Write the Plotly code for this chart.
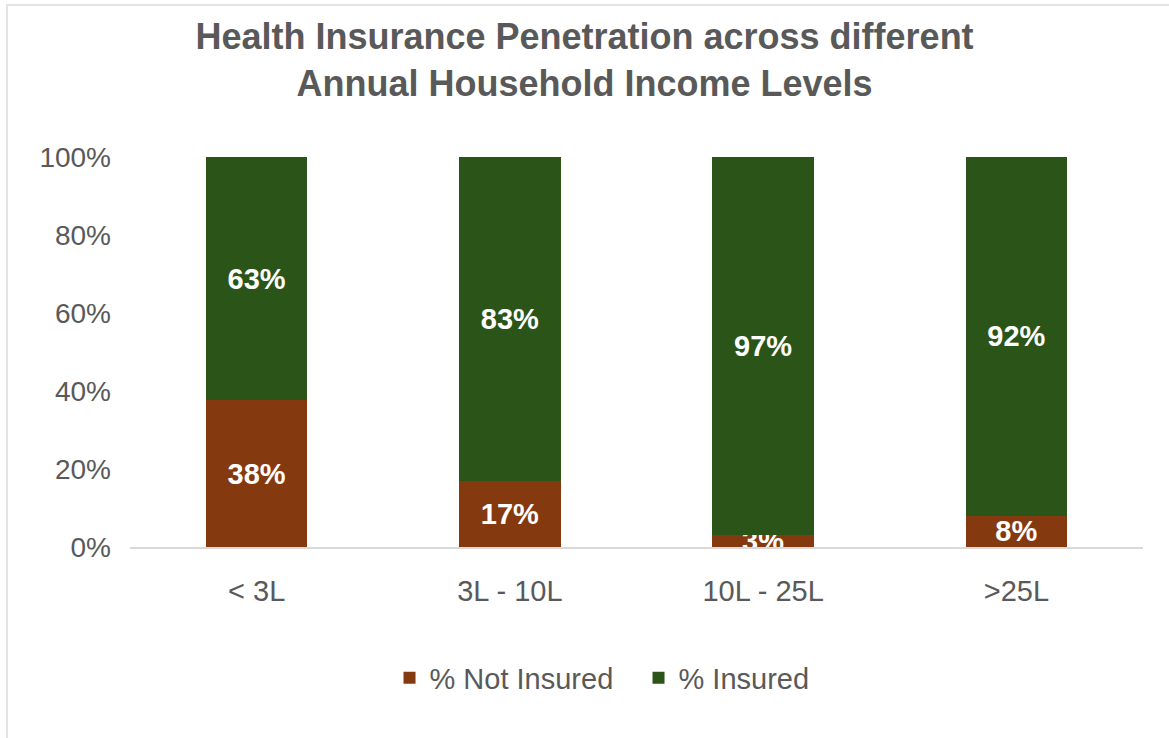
import plotly.graph_objects as go

# Income bands and survey shares (percent of households)
income_levels = ["< 3L", "3L - 10L", "10L - 25L", ">25L"]
not_insured = [38, 17, 3, 8]
insured = [63, 83, 97, 92]
y_ticks = [0, 20, 40, 60, 80, 100]
y_tick_labels = ["0%", "20%", "40%", "60%", "80%", "100%"]

BROWN = "#843A0E"
GREEN = "#2A5418"
GREY_TEXT = "#595959"
FONT = "Liberation Sans, Arial, sans-serif"

fig = go.Figure()
for name, vals, colour in [("% Not Insured", not_insured, BROWN),
                           ("% Insured", insured, GREEN)]:
    fig.add_trace(go.Bar(
        name=name, x=income_levels, y=vals,
        marker=dict(color=colour, line=dict(width=0)),
        text=[f"{v}%" for v in vals],
        textposition="inside", insidetextanchor="middle", constraintext="none",
        textangle=0, cliponaxis=True,
        textfont=dict(family=FONT, size=29, color="white", weight="bold"),
    ))

L, R, T, B = 130, 26, 157, 191
W, H = 1169, 738
pw, ph = W - L - R, H - T - B

def px_x(p):
    return (p - L) / pw

def px_y(p):
    return (H - B - p) / ph

# thin frame along the top and left edges of the chart area
frame = dict(type="line", xref="paper", yref="paper",
             line=dict(color="#E4E4E4", width=2), layer="below")
shapes = [
    dict(frame, x0=px_x(6), x1=px_x(W), y0=px_y(5), y1=px_y(5)),
    dict(frame, x0=px_x(7), x1=px_x(7), y0=px_y(5), y1=px_y(H)),
]

fig.update_layout(
    barmode="stack", barnorm="percent", bargap=0.6,
    width=W, height=H,
    margin=dict(l=L, r=R, t=T, b=B, pad=0),
    paper_bgcolor="white", plot_bgcolor="white",
    font=dict(family=FONT, size=29, color=GREY_TEXT),
    title=dict(
        text="Health Insurance Penetration across different<br>Annual Household Income Levels",
        x=0.5, xref="container", xanchor="center",
        y=1 - 49 / H, yref="container", yanchor="middle",
        font=dict(family=FONT, size=36, color=GREY_TEXT, weight="bold"),
    ),
    xaxis=dict(showgrid=False, zeroline=False, showline=True,
               linecolor="#D9D9D9", linewidth=2, ticks="",
               ticklabelstandoff=17,
               tickfont=dict(size=29, color=GREY_TEXT)),
    yaxis=dict(range=[0, 100], tickmode="array", tickvals=y_ticks,
               ticktext=y_tick_labels,
               showgrid=False, zeroline=False, showline=False, ticks="",
               ticklabelstandoff=18,
               tickfont=dict(size=28, color=GREY_TEXT)),
    legend=dict(orientation="h", x=0.502, xanchor="center",
                y=px_y(678), yanchor="middle",
                entrywidthmode="pixels", entrywidth=204,
                font=dict(size=29, color=GREY_TEXT), traceorder="normal"),
    shapes=shapes,
    showlegend=True,
)

fig.write_html("out.html")
